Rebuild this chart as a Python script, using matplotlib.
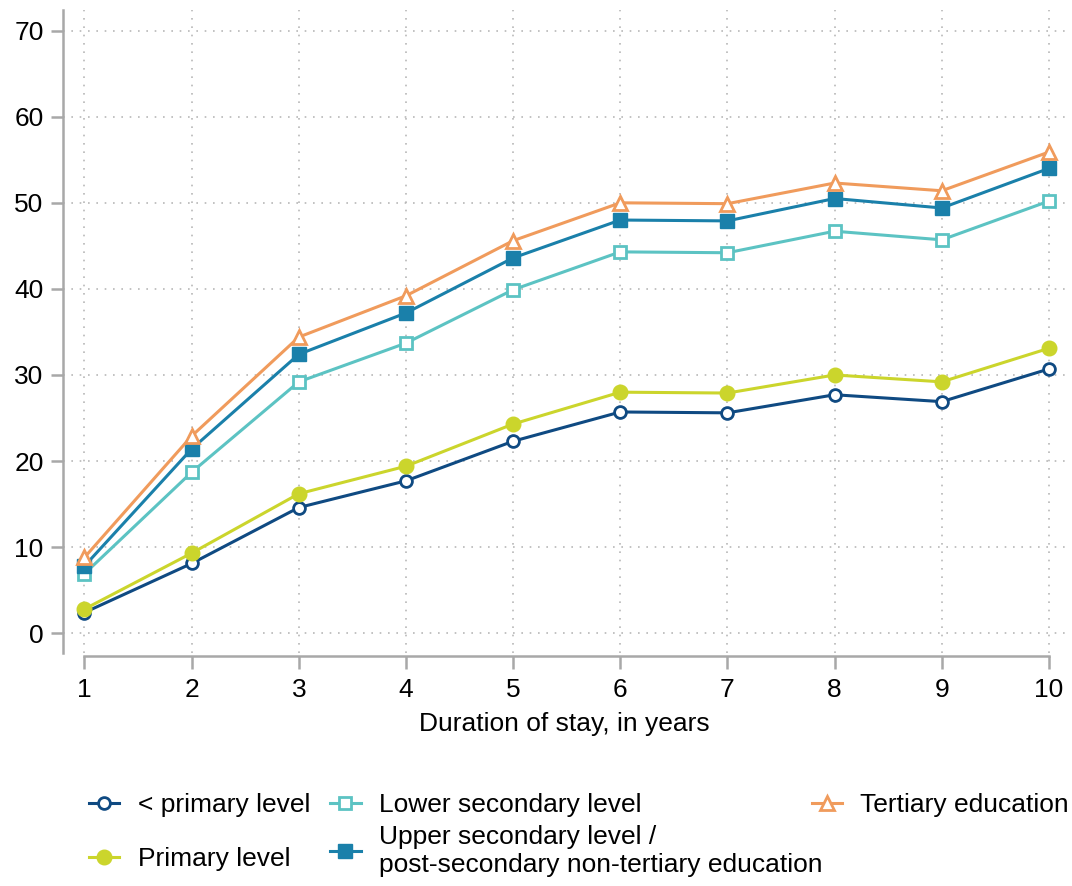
import numpy as np
import matplotlib.pyplot as plt

plt.rcParams['font.family'] = ['Liberation Sans', 'DejaVu Sans']

# Data
years = [1, 2, 3, 4, 5, 6, 7, 8, 9, 10]
below_primary = [2.4, 8.1, 14.6, 17.7, 22.3, 25.7, 25.6, 27.7, 26.9, 30.7]
primary = [2.8, 9.3, 16.2, 19.4, 24.3, 28.0, 27.9, 30.0, 29.2, 33.1]
lower_secondary = [6.9, 18.7, 29.2, 33.7, 39.9, 44.3, 44.2, 46.7, 45.7, 50.2]
upper_secondary = [7.8, 21.4, 32.4, 37.2, 43.6, 48.0, 47.9, 50.5, 49.4, 54.0]
tertiary = [8.8, 22.9, 34.4, 39.2, 45.6, 50.0, 49.9, 52.3, 51.4, 55.9]

labels = ['< primary level', 'Primary level', 'Lower secondary level',
          'Upper secondary level /\npost-secondary non-tertiary education',
          'Tertiary education']
colors = ['#0f4a82', '#cbd52c', '#5cc3c3', '#1a80aa', '#f09b5c']

fig = plt.figure(figsize=(10.72, 8.86), dpi=100)
ax = fig.add_axes([0.0588, 0.263, 0.9347, 0.7257])

lw = 2.2
h1, = ax.plot(years, below_primary, color=colors[0], lw=lw, marker='o', ms=8.5,
              mfc='white', mec=colors[0], mew=2)
h2, = ax.plot(years, primary, color=colors[1], lw=lw, marker='o', ms=10.5)
h3, = ax.plot(years, lower_secondary, color=colors[2], lw=lw, marker='s', ms=8.5,
              mfc='white', mec=colors[2], mew=2)
h4, = ax.plot(years, upper_secondary, color=colors[3], lw=lw, marker='s', ms=9.5)
h5, = ax.plot(years, tertiary, color=colors[4], lw=lw, marker='^', ms=10.5,
              mfc='white', mec=colors[4], mew=2)

ax.set_xlim(0.8, 10.15)
ax.set_ylim(-2.3, 72.4)
ax.set_xticks(years)
ax.set_yticks(np.arange(0, 71, 10))
ax.grid(True, color='#b8b8b8', linestyle=(0, (1, 4)), linewidth=1.2)
ax.set_axisbelow(True)

for s in ['top', 'right']:
    ax.spines[s].set_visible(False)
ax.spines['left'].set_color('#a8a8a8')
ax.spines['bottom'].set_color('#a8a8a8')
ax.spines['left'].set_linewidth(1.8)
ax.spines['bottom'].set_linewidth(1.8)
ax.spines['bottom'].set_position(('outward', 2))
ax.spines['bottom'].set_bounds(1, 10)
ax.tick_params(axis='both', colors='#a8a8a8', width=1.8, length=9,
               labelcolor='black', labelsize=19)
ax.tick_params(axis='x', pad=7)
ax.tick_params(axis='y', pad=5)

ax.set_xlabel('Duration of stay, in years', fontsize=19, labelpad=7)

leg_kw = dict(frameon=False, fontsize=19, handlelength=1.15, handletextpad=0.7,
              borderaxespad=0, borderpad=0, loc='upper left')
fig.legend([h1, h2], labels[:2], bbox_to_anchor=(0.083, 0.105),
           labelspacing=1.15, **leg_kw)
fig.legend([h3, h4], labels[2:4], bbox_to_anchor=(0.308, 0.105),
           labelspacing=0.3, **leg_kw)
fig.legend([h5], labels[4:], bbox_to_anchor=(0.757, 0.105), **leg_kw)

fig.savefig('out.png', dpi=100)
